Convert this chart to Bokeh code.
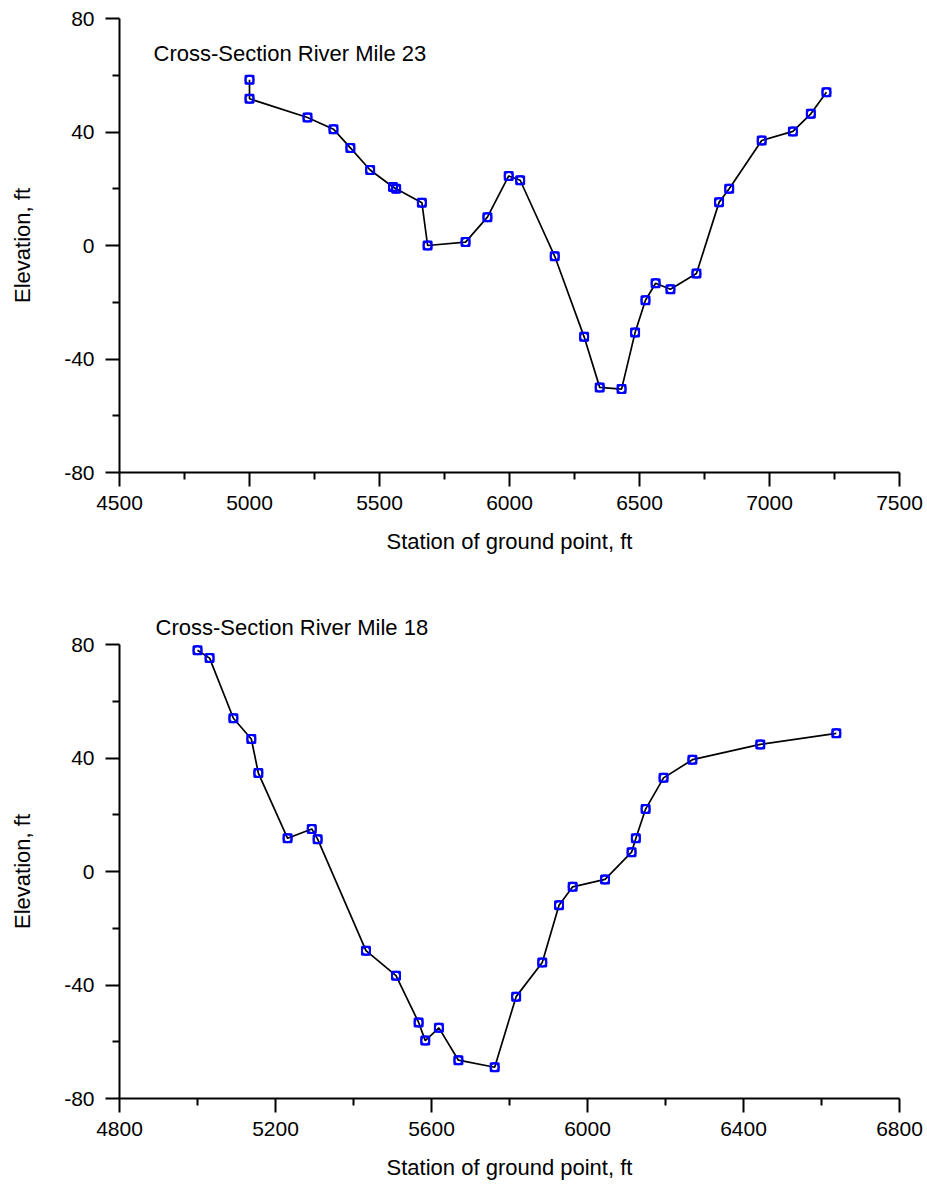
from bokeh.plotting import figure
from bokeh.layouts import column
from bokeh.models import FixedTicker, Label, Title, Range1d, PrintfTickFormatter
from bokeh.embed import file_html
from bokeh.resources import INLINE

# ---- data: River Mile 23 ----
station_23 = [5000, 5000, 5223, 5323, 5388, 5464, 5552, 5564, 5663, 5685, 5831, 5915,
              5997, 6041, 6174, 6287, 6347, 6431, 6483, 6523, 6562, 6619, 6719, 6806,
              6845, 6970, 7090, 7159, 7219]
elev_23 = [58.4, 51.7, 45.1, 41.0, 34.4, 26.6, 20.6, 20.0, 15.1, 0.0, 1.2, 10.0,
           24.5, 23.0, -3.8, -32.2, -50.0, -50.6, -30.7, -19.3, -13.3, -15.4, -9.9, 15.2,
           20.0, 37.0, 40.2, 46.4, 54.0]

# ---- data: River Mile 18 ----
station_18 = [5000, 5031, 5092, 5138, 5156, 5231, 5293, 5308, 5432, 5509, 5567, 5584,
              5619, 5669, 5762, 5817, 5884, 5927, 5962, 6045, 6113, 6124, 6149, 6195,
              6269, 6443, 6638]
elev_18 = [78.0, 75.2, 54.0, 46.7, 34.7, 11.7, 15.0, 11.4, -27.9, -36.7, -53.2, -59.6,
           -55.1, -66.5, -69.0, -44.1, -32.1, -11.9, -5.4, -2.8, 6.8, 11.7, 22.0, 33.0,
           39.4, 44.8, 48.7]

# ---- ticks ----
x_ticks_23 = [4500, 5000, 5500, 6000, 6500, 7000, 7500]
x_minor_23 = [4750, 5250, 5750, 6250, 6750, 7250]
x_ticks_18 = [4800, 5200, 5600, 6000, 6400, 6800]
x_minor_18 = [5000, 5400, 5800, 6200, 6600]
y_ticks = [-80, -40, 0, 40, 80]
y_minor = [-60, -20, 20, 60]

title_23 = "Cross-Section River Mile 23"
title_18 = "Cross-Section River Mile 18"
x_label = "Station of ground point, ft"
y_label = "Elevation, ft"

FONT = "Liberation Sans"
BLUE = "#0000ff"


def style(p, xt, xm):
    p.xaxis.ticker = FixedTicker(ticks=xt, minor_ticks=xm)
    p.yaxis.ticker = FixedTicker(ticks=y_ticks, minor_ticks=y_minor)
    p.xaxis.formatter = PrintfTickFormatter(format="%d")
    p.yaxis.formatter = PrintfTickFormatter(format="%d")
    for ax in (p.xaxis[0], p.yaxis[0]):
        ax.axis_line_width = 2
        ax.axis_line_color = "black"
        ax.major_tick_line_width = 2
        ax.minor_tick_line_width = 2
        ax.major_tick_line_color = "black"
        ax.minor_tick_line_color = "black"
        ax.major_tick_out = 14
        ax.major_tick_in = 0
        ax.minor_tick_out = 7
        ax.minor_tick_in = 0
        ax.major_label_text_font = FONT
        ax.major_label_text_font_size = "21px"
        ax.major_label_text_color = "black"
        ax.axis_label_text_font = FONT
        ax.axis_label_text_font_size = "22px"
        ax.axis_label_text_font_style = "normal"
        ax.axis_label_text_color = "black"
    p.xaxis.major_label_standoff = 9
    p.yaxis.major_label_standoff = 11
    p.xaxis.axis_label_standoff = 16
    p.yaxis.axis_label_standoff = 26
    p.xaxis.axis_label = x_label
    p.yaxis.axis_label = y_label
    p.xgrid.visible = False
    p.ygrid.visible = False
    p.outline_line_color = None
    p.background_fill_color = "white"
    p.border_fill_color = "white"


def draw(p, xs, ys):
    p.line(xs, ys, line_color="black", line_width=1.7)
    p.scatter(xs, ys, marker="square", size=8, fill_color=None,
              line_color=BLUE, line_width=2)
    p.scatter(xs, ys, marker="circle", size=8, fill_color=None,
              line_color=BLUE, line_width=2)


p1 = figure(frame_width=780, frame_height=454, output_backend="svg",
            toolbar_location=None, x_range=Range1d(4500, 7500),
            y_range=Range1d(-80, 80), min_border_left=119, min_border_right=28,
            min_border_top=18, min_border_bottom=118)
style(p1, x_ticks_23, x_minor_23)
draw(p1, station_23, elev_23)
p1.add_layout(Label(x=4631, y=67.8, text=title_23, text_font=FONT,
                    text_font_size="22px", text_baseline="middle",
                    text_color="black"))

p2 = figure(frame_width=780, frame_height=454, output_backend="svg",
            toolbar_location=None, x_range=Range1d(4800, 6800),
            y_range=Range1d(-80, 80), min_border_left=117, min_border_right=30,
            min_border_top=54, min_border_bottom=80)
style(p2, x_ticks_18, x_minor_18)
draw(p2, station_18, elev_18)
p2.title = Title(text=title_18, align="left", offset=36,
                 text_font=FONT, text_font_size="22px",
                 text_font_style="normal", text_color="black", standoff=10)

layout = column(p1, p2, spacing=0)

open("out.html", "w").write(file_html(layout, INLINE))
